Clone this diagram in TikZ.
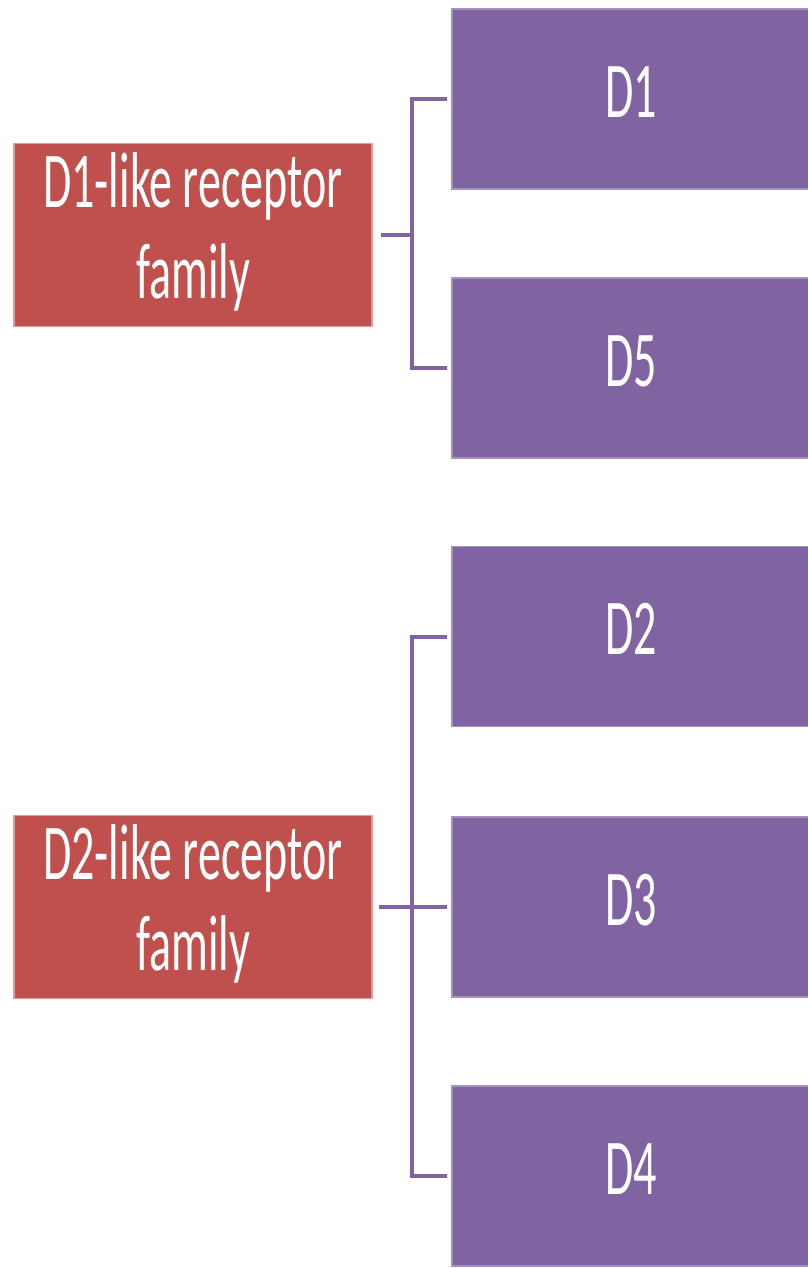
\documentclass[tikz,border=0pt]{standalone}
\usepackage{fontspec}
\setmainfont{Carlito}
\usepackage{graphicx}
\definecolor{famred}{HTML}{C0504D}
\definecolor{subpurple}{HTML}{8064A2}
\newcommand\vst[1]{\scalebox{1}[1.72]{\fontsize{46}{53}\selectfont\begin{tabular}{@{}c@{}}#1\end{tabular}}}
\tikzset{
  fambox/.style={rectangle, fill=famred, draw=famred!55!white, line width=1.5pt, minimum width=358pt, minimum height=183pt, inner sep=0pt, text=white},
  subbox/.style={rectangle, fill=subpurple, draw=subpurple!70!white, line width=1.5pt, minimum width=358pt, minimum height=180pt, inner sep=0pt, text=white},
  conn/.style={draw=subpurple, line width=4pt}
}
\begin{document}
\begin{tikzpicture}[x=1pt,y=-1pt]
\useasboundingbox[fill=white] (0,0) rectangle (807,1268);
\node[fambox] (r1) at (193,235) {\vst{D1-like receptor\\family}};
\node[fambox] (r2) at (193,907) {\vst{D2-like receptor\\family}};
\node[subbox] (d1) at (631,99) {\vst{D1}};
\node[subbox] (d5) at (631,368) {\vst{D5}};
\node[subbox] (d2) at (631,636.5) {\vst{D2}};
\node[subbox] (d3) at (631,907) {\vst{D3}};
\node[subbox] (d4) at (631,1176) {\vst{D4}};
\coordinate (b) at (412,0);
\draw[conn] ([xshift=-4pt]d1.west) -| (b |- d5.west) -- ([xshift=-4pt]d5.west);
\draw[conn] ([xshift=8pt]r1.east) -- (b |- r1.east);
\draw[conn] ([xshift=-4pt]d2.west) -| (b |- d4.west) -- ([xshift=-4pt]d4.west);
\draw[conn] ([xshift=6pt]r2.east) -- ([xshift=-4pt]d3.west);
\end{tikzpicture}
\end{document}
